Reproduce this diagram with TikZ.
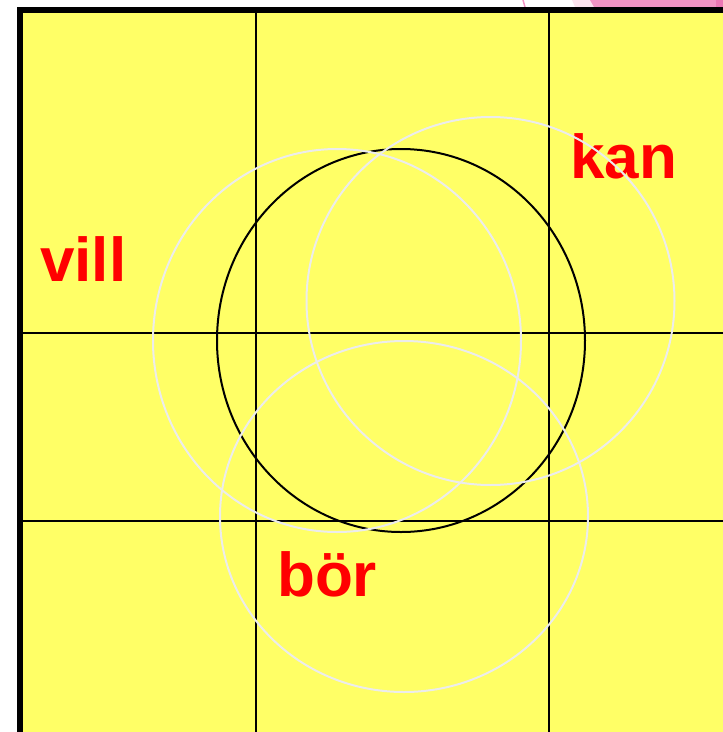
\documentclass[tikz,border=0pt]{standalone}
\usepackage{fontspec}
\setmainfont{Liberation Sans}
\definecolor{bgyellow}{RGB}{255,255,102}
\definecolor{ringwhite}{RGB}{236,236,236}
\definecolor{lightpink}{RGB}{252,228,238}
\definecolor{midpink}{RGB}{243,148,196}
\definecolor{deeppink}{RGB}{236,120,180}
\definecolor{wordred}{RGB}{255,0,0}
\begin{document}
\begin{tikzpicture}[x=1pt,y=-1pt,
  gridline/.style={black,line width=2.5pt},
  frameline/.style={black,line width=6pt},
  ring/.style={ringwhite,line width=2pt},
  mainring/.style={black,line width=2pt},
  word/.style={text=wordred,font=\fontsize{62}{70}\selectfont\bfseries,inner sep=0pt,anchor=base west}]
\useasboundingbox (0,0) rectangle (723,732);
\fill[white] (0,0) rectangle (723,732);
% pink shape at top right
\fill[lightpink] (572,0) -- (723,0) -- (723,7) -- (575,7) -- cycle;
\fill[midpink] (590,0) -- (723,0) -- (723,7) -- (594,7) -- cycle;
\fill[deeppink] (716,0) rectangle (723,7);
\draw[midpink,line width=1.5pt] (523,0) -- (525,7);
% yellow field
\fill[bgyellow] (20,10) rectangle (723,732);
% grid
\draw[gridline] (256,10) -- (256,732);
\draw[gridline] (549,10) -- (549,732);
\draw[gridline] (20,333) -- (723,333);
\draw[gridline] (20,521) -- (723,521);
% frame
\draw[frameline] (20,732) -- (20,10) -- (723,10);
% words
\node[word] (vill) at (40,281) {vill};
\node[word] (kan) at (570,178) {kan};
\node[word] (bor) at (277,596) {bör};
% circles
\draw[mainring] (401,340.5) ellipse [x radius=184, y radius=191.5];
\draw[ring] (337,340.5) ellipse [x radius=184, y radius=191.5];
\draw[ring] (490.5,301) ellipse [x radius=184, y radius=184];
\draw[ring] (404,516.5) ellipse [x radius=184, y radius=175.5];
\end{tikzpicture}
\end{document}
